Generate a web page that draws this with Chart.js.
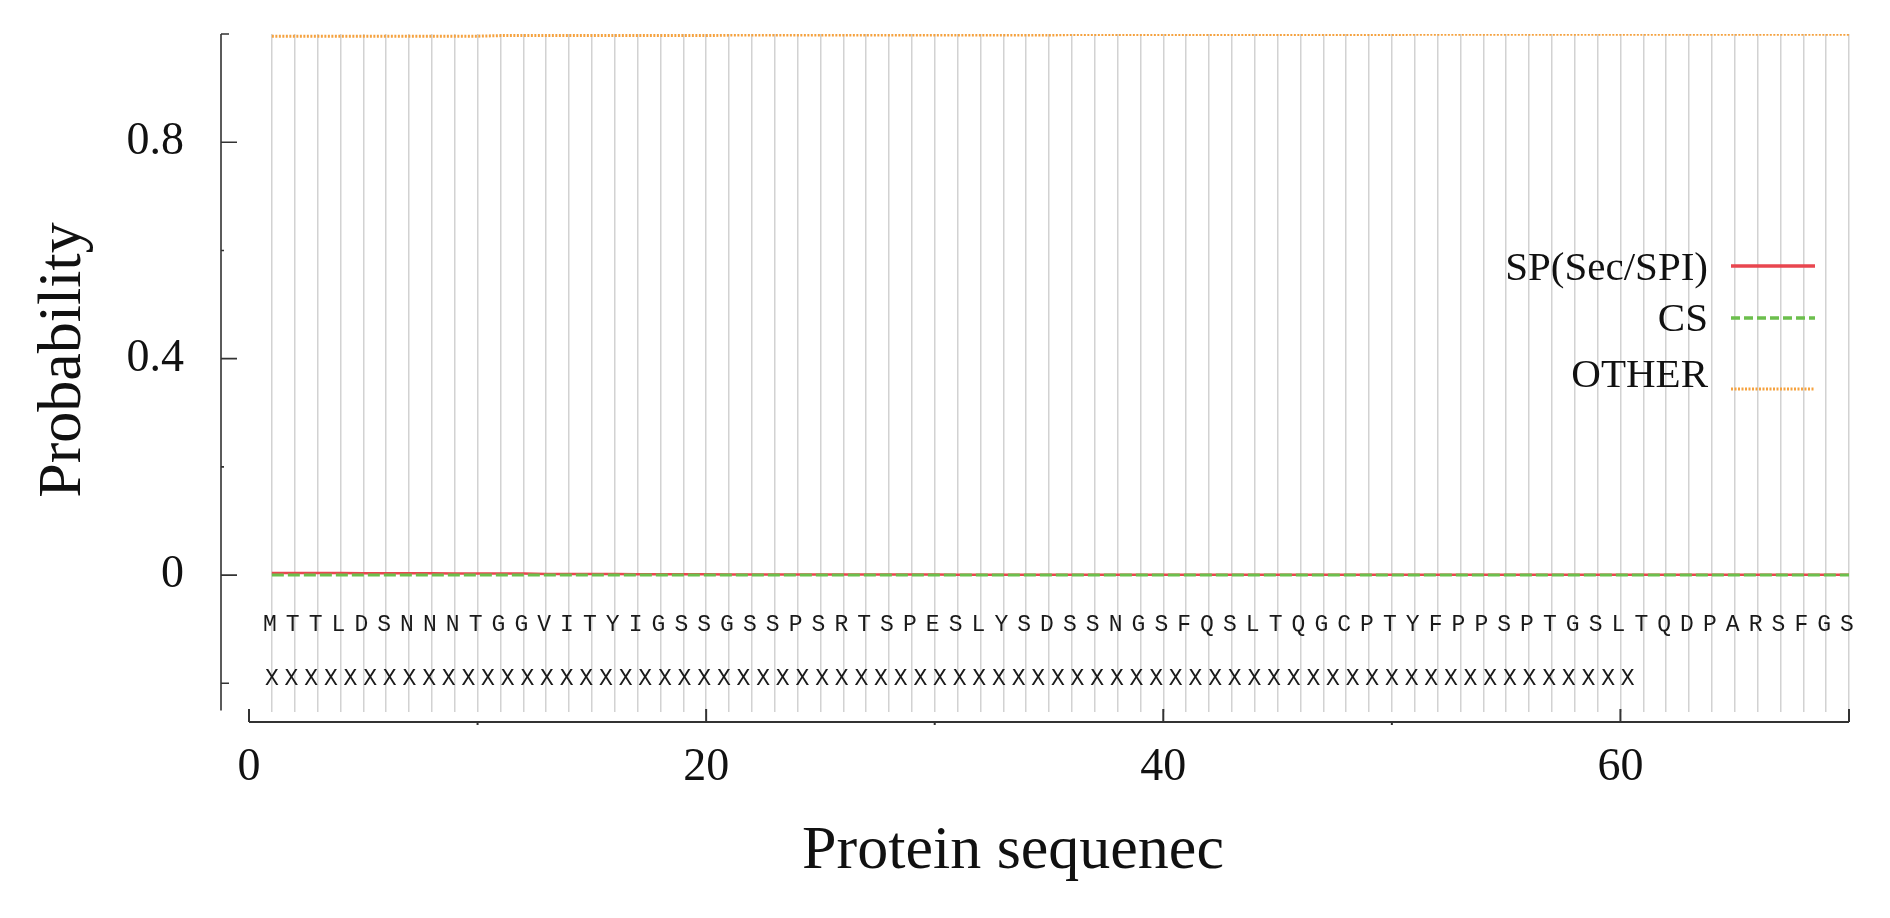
<!DOCTYPE html>
<html>
<head>
<meta charset="utf-8">
<script src="https://cdn.jsdelivr.net/npm/chart.js@4.4.0/dist/chart.umd.min.js"></script>
<style>
  html, body { margin: 0; padding: 0; background: #fff; }
  #wrap { width: 1890px; height: 918px; position: relative; }
</style>
</head>
<body>
<div id="wrap"><canvas id="chart"></canvas></div>
<script>
// ---- data ----
const positions = [1,2,3,4,5,6,7,8,9,10,11,12,13,14,15,16,17,18,19,20,21,22,23,24,25,26,27,28,29,30,31,32,33,34,35,36,37,38,39,40,41,42,43,44,45,46,47,48,49,50,51,52,53,54,55,56,57,58,59,60,61,62,63,64,65,66,67,68,69,70];
const sequence = "MTTLDSNNNTGGVITYIGSSGSSPSRTSPESLYSDSSNGSFQSLTQGCPTYFPPSPTGSLTQDPARSFGS".split("");
const secondRow = "XXXXXXXXXXXXXXXXXXXXXXXXXXXXXXXXXXXXXXXXXXXXXXXXXXXXXXXXXXXXXXXXXXXXXX";

const spValues = [0.004,0.004,0.004,0.004,0.0035,0.0035,0.0035,0.0035,0.003,0.003,0.003,0.003,0.002,0.002,0.002,0.002,0.0015,0.0015,0.0015,0.0015,
  0.001,0.001,0.001,0.001,0.001,0.001,0.001,0.001,0.001,0.001,0.0005,0.0005,0.0005,0.0005,0.0005,0.0005,0.0005,0.0005,0.0005,0.0005,
  0.0005,0.0005,0.0005,0.0005,0.0005,0.0005,0.0005,0.0005,0.0005,0.0005,0.0005,0.0005,0.0005,0.0005,0.0005,0.0005,0.0005,0.0005,0.0005,0.0005,
  0.0005,0.0005,0.0005,0.0005,0.0005,0.0005,0.0005,0.0005,0.0005,0.0005];
const csValues = [0,0,0,0,0,0,0,0,0,0,0,0,0,0,0,0,0,0,0,0,0,0,0,0,0,0,0,0,0,0,0,0,0,0,0,
  0,0,0,0,0,0,0,0,0,0,0,0,0,0,0,0,0,0,0,0,0,0,0,0,0,0,0,0,0,0,0,0,0,0,0];
const otherValues = [0.996,0.996,0.996,0.996,0.996,0.996,0.996,0.996,0.996,0.996,0.997,0.997,0.997,0.997,0.997,0.997,0.997,0.997,0.997,0.997,
  0.998,0.998,0.998,0.998,0.998,0.998,0.998,0.998,0.998,0.998,0.998,0.998,0.998,0.998,0.998,0.999,0.999,0.999,0.999,0.999,
  0.999,0.999,0.999,0.999,0.999,0.999,0.999,0.999,0.999,0.999,0.9995,0.9995,0.9995,0.9995,0.9995,0.9995,0.9995,0.9995,0.9995,0.9995,
  0.9995,0.9995,0.9995,0.9995,0.9995,0.9995,0.9995,0.9995,0.9995,0.9995];

const seriesNames = ["SP(Sec/SPI)", "CS", "OTHER"];
const yTickLabels = [0, 0.4, 0.8];
const yEndTicks = [-0.2, 1.0];
const yMinorTicks = [0.2, 0.6];
const xTickLabels = [0, 20, 40, 60];
const xMajorTicks = [0, 20, 40, 60, 70];
const xMinorTicks = [10, 30, 50];

// ---- styles ----
const RED = "#e9464f", GREEN = "#6cbf4d", ORANGE = "#f5a23f";
const GRID = "#d2d2d2", AXIS = "#333333", INK = "#111111";
const SERIF = "'Liberation Serif', 'Times New Roman', serif";
const MONO = "'Liberation Mono', 'Courier New', monospace";

const overlay = {
  id: "overlay",
  afterDraw(chart) {
    const { ctx, chartArea, scales } = chart;
    const xs = scales.x, ys = scales.y;
    ctx.save();

    // y axis (offset line with inward ticks)
    const ax = chartArea.left;
    ctx.strokeStyle = AXIS;
    ctx.lineWidth = 1.6;
    ctx.beginPath();
    ctx.moveTo(ax, ys.getPixelForValue(1.0));
    ctx.lineTo(ax, ys.getPixelForValue(-0.25));
    yTickLabels.forEach(v => { const p = ys.getPixelForValue(v); ctx.moveTo(ax, p); ctx.lineTo(ax + 16, p); });
    yEndTicks.forEach(v => { const p = ys.getPixelForValue(v); ctx.moveTo(ax, p); ctx.lineTo(ax + 8, p); });
    yMinorTicks.forEach(v => { const p = ys.getPixelForValue(v); ctx.moveTo(ax, p); ctx.lineTo(ax + 3, p); });
    ctx.stroke();

    // x axis (offset line below the plot)
    const ay = chartArea.bottom + 10;
    ctx.lineWidth = 2;
    ctx.beginPath();
    ctx.moveTo(xs.getPixelForValue(0), ay);
    ctx.lineTo(xs.getPixelForValue(70), ay);
    xMajorTicks.forEach(v => { const p = xs.getPixelForValue(v); ctx.moveTo(p, ay); ctx.lineTo(p, ay - 13); });
    xMinorTicks.forEach(v => { const p = xs.getPixelForValue(v); ctx.moveTo(p, ay); ctx.lineTo(p, ay + 3); });
    ctx.stroke();

    // sequence letters
    ctx.fillStyle = "#1a1a1a";
    ctx.font = "23px " + MONO;
    ctx.textAlign = "center";
    ctx.textBaseline = "middle";
    sequence.forEach((ch, i) => {
      ctx.fillText(ch, xs.getPixelForValue(positions[i]) - 2, 625);
    });
    // second row of X marks
    const pitch = 19.65;
    const x0 = xs.getPixelForValue(positions[0]);
    secondRow.split("").forEach((ch, i) => {
      ctx.fillText(ch, x0 + i * pitch, 679);
    });

    // axis titles
    ctx.fillStyle = INK;
    ctx.font = "62px " + SERIF;
    ctx.textAlign = "center";
    ctx.fillText("Protein sequenec", 1013, 852);
    ctx.save();
    ctx.translate(64, 360);
    ctx.rotate(-Math.PI / 2);
    ctx.fillText("Probability", 0, 0);
    ctx.restore();

    // legend
    const rows = [
      { y: 269, ly: 266, color: RED, dash: [], w: 3.5 },
      { y: 320, ly: 318, color: GREEN, dash: [9, 4], w: 3.5 },
      { y: 376, ly: 389, color: ORANGE, dash: [2, 1.5], w: 3 }
    ];
    ctx.font = "41px " + SERIF;
    ctx.textAlign = "right";
    rows.forEach((r, i) => {
      ctx.fillStyle = INK;
      ctx.fillText(seriesNames[i], 1708, r.y);
      ctx.strokeStyle = r.color;
      ctx.lineWidth = r.w;
      ctx.setLineDash(r.dash);
      ctx.beginPath();
      ctx.moveTo(1731, r.ly);
      ctx.lineTo(1815, r.ly);
      ctx.stroke();
    });
    ctx.setLineDash([]);
    ctx.restore();
  }
};

const chart = new Chart(document.getElementById("chart"), {
  type: "line",
  data: {
    labels: positions,
    datasets: [
      { label: seriesNames[0], data: spValues, borderColor: RED, borderWidth: 2.5, order: 3 },
      { label: seriesNames[1], data: csValues, borderColor: GREEN, borderWidth: 3, borderDash: [12, 4], order: 2 },
      { label: seriesNames[2], data: otherValues, borderColor: ORANGE, borderWidth: 3, borderDash: [2, 1.5], order: 1 }
    ].map(d => Object.assign(d, { pointRadius: 0, tension: 0, fill: false }))
  },
  options: {
    responsive: true,
    maintainAspectRatio: false,
    animation: false,
    layout: { padding: { top: 34, right: 41, bottom: 0, left: 0 } },
    plugins: { legend: { display: false }, tooltip: { enabled: false } },
    scales: {
      x: {
        type: "linear",
        min: -1.225,
        max: 70,
        afterBuildTicks: s => { s.ticks = [0].concat(positions).map(v => ({ value: v })); },
        afterFit: s => { s.height = 206; s.paddingLeft = 0; s.paddingRight = 0; },
        grid: {
          drawTicks: false,
          lineWidth: 1.5,
          color: c => (c.tick && c.tick.value === 0) ? "rgba(0,0,0,0)" : GRID
        },
        border: { display: false },
        ticks: {
          autoSkip: false,
          maxRotation: 0,
          padding: 28,
          color: INK,
          font: { family: SERIF, size: 46 },
          callback: v => xTickLabels.includes(v) ? String(v) : ""
        }
      },
      y: {
        type: "linear",
        min: -0.253,
        max: 1.0,
        afterBuildTicks: s => { s.ticks = yTickLabels.map(v => ({ value: v })); },
        afterFit: s => { s.width = 221; s.paddingTop = 0; s.paddingBottom = 0; },
        grid: { display: false },
        border: { display: false },
        ticks: {
          padding: 29,
          color: INK,
          font: { family: SERIF, size: 46 },
          callback: v => String(v)
        }
      }
    }
  },
  plugins: [overlay]
});
</script>
</body>
</html>
